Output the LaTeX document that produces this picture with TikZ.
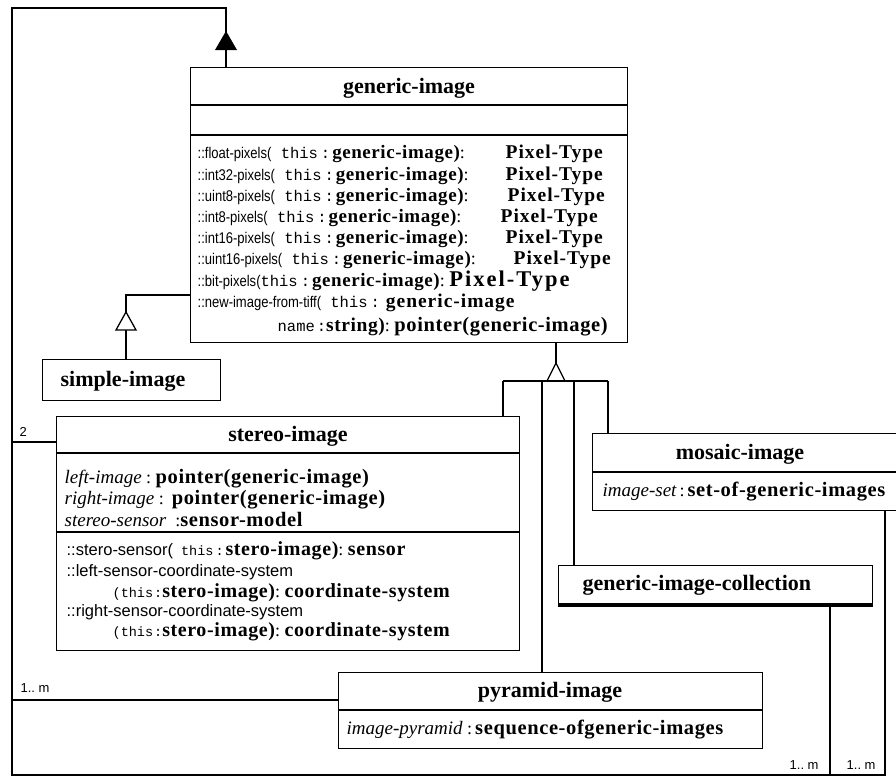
\documentclass[tikz,border=0pt]{standalone}
\usepackage{fontspec}
\setmainfont{Liberation Serif}
\setsansfont{Liberation Sans}
\setmonofont{Liberation Mono}
\newfontfamily\spacedserif{Liberation Serif}[LetterSpace=3]
\newfontfamily\widerserif{Liberation Serif}[LetterSpace=5]
\newfontfamily\widestserif{Liberation Serif}[LetterSpace=9]
\newfontfamily\condsans{Liberation Sans}[FakeStretch=0.84]
% type faces used inside the class boxes
\newcommand\clsfont{\normalfont\fontsize{22}{24}\selectfont\bfseries}
\newcommand\opsans{\normalfont\fontsize{15.5}{16}\selectfont\condsans}
\newcommand\opmono{\normalfont\fontsize{15.5}{16}\selectfont\ttfamily}
\newcommand\opbold{\normalfont\fontsize{19.5}{20}\selectfont\spacedserif\bfseries}
\newcommand\pxname{\normalfont\fontsize{19}{20}\selectfont\spacedserif\bfseries}
\newcommand\opplain{\normalfont\fontsize{18}{20}\selectfont\rmfamily}
\newcommand\pxtype{\normalfont\fontsize{19.5}{20}\selectfont\widerserif\bfseries}
\newcommand\pxtypebig{\normalfont\fontsize{22.5}{24}\selectfont\widestserif\bfseries}
\newcommand\stsans{\normalfont\fontsize{16.5}{18}\selectfont\sffamily}
\newcommand\stmono{\normalfont\fontsize{13.5}{14}\selectfont\ttfamily}
\newcommand\stbold{\normalfont\fontsize{20}{22}\selectfont\spacedserif\bfseries}
\newcommand\atname{\normalfont\fontsize{19}{20}\selectfont\rmfamily\itshape}
\newcommand\attype{\normalfont\fontsize{20.5}{22}\selectfont\spacedserif\bfseries}
\newcommand\multlabel{\normalfont\fontsize{13}{14}\selectfont\sffamily}
% receiver part of a generic-image operation
\newcommand\thisarg{\opmono this\hspace{3pt}:\hspace{2pt}}
% one pixel-access operation of generic-image; #2 = offset of the result type
\newcommand\pixop[2]{\makebox[#2][l]{\opsans ::#1-pixels(\opmono\ \thisarg\pxname generic-image)\opplain:}\pxtype Pixel-Type}
\begin{document}
\begin{tikzpicture}[x=1pt,y=-1pt,line width=1.3pt,
  cls/.style={draw,rectangle,inner sep=0pt,anchor=north west,fill=white},
  txt/.style={inner sep=0pt,anchor=base west},
  ttl/.style={inner sep=0pt,anchor=base,font=\clsfont},
  mlab/.style={inner sep=0pt,anchor=base west,font=\multlabel},
  hollow/.style={draw,fill=white,line join=miter}]
\useasboundingbox (0,0) rectangle (896,777);
\fill[white] (0,0) rectangle (896,777);
\clip (0,0) rectangle (896,777);

% column and row helpers for the connectors
\coordinate (cA) at (12,8);
\coordinate (cTop) at (226,8);
\coordinate (cBL) at (12,775);
\coordinate (cSimple) at (126,295);
\coordinate (cFork) at (556,381);
\coordinate (xSt) at (503,0);
\coordinate (xPy) at (542,0);
\coordinate (xGc) at (574,0);
\coordinate (xMo) at (608,0);
\coordinate (xGi) at (226,0);
\coordinate (xGiB) at (556,0);
\coordinate (xSi) at (126,0);
\coordinate (xGcB) at (830,0);
\coordinate (xMoB) at (885,0);
\coordinate (yTwo) at (0,442);
\coordinate (yPy) at (0,700);

% ---------- generic-image ----------
\node[cls,minimum width=437pt,minimum height=275pt] (gi) at (190,67) {};
\draw (gi.west |- 0,105) -- (gi.east |- 0,105);
\draw (gi.west |- 0,135) -- (gi.east |- 0,135);
\node[ttl] (gi-t) at (409,93) {generic-image};
\node[txt] (gi-o1) at (197,158) {\pixop{float}{308pt}};
\node[txt] (gi-o2) at (197,180) {\pixop{int32}{308pt}};
\node[txt] (gi-o3) at (197,201) {\pixop{uint8}{310pt}};
\node[txt] (gi-o4) at (197,222) {\pixop{int8}{303pt}};
\node[txt] (gi-o5) at (197,243) {\pixop{int16}{308pt}};
\node[txt] (gi-o6) at (197,264) {\pixop{uint16}{316pt}};
\node[txt] (gi-o7) at (197,286) {\opsans ::bit-pixels(\thisarg\pxname generic-image)\opplain:\ \pxtypebig Pixel-Type};
\node[txt] (gi-o8) at (197,307) {\opsans ::new-image-from-tiff(\opmono\ \thisarg\hspace{4pt}\pxtype generic-image};
\node[txt] (gi-o9) at (277,331) {\opmono name\hspace{2pt}:\opbold string)\opplain:\ \attype pointer(generic-image)};

% ---------- simple-image ----------
\node[cls,minimum width=178pt,minimum height=41pt] (si) at (42,359) {};
\node[ttl,anchor=base west] (si-t) at (60,386) {simple-image};

% ---------- stereo-image ----------
\node[cls,minimum width=463pt,minimum height=234pt] (st) at (56,416) {};
\draw (st.west |- 0,453) -- (st.east |- 0,453);
\draw (st.west |- 0,532) -- (st.east |- 0,532);
\node[ttl] (st-t) at (288,441) {stereo-image};
\node[txt] (st-a1) at (64,483) {\atname left-image\opplain\ :\ \attype pointer(generic-image)};
\node[txt] (st-a2) at (64,504) {\atname right-image\opplain\ :\hspace{8pt}\attype pointer(generic-image)};
\node[txt] (st-a3) at (64,526) {\atname stereo-sensor\opplain\ \ :\attype sensor-model};
\node[txt] (st-o1) at (66,555) {\stsans ::stero-sensor(\stmono\ this\hspace{2pt}:\hspace{2pt}\stbold stero-image)\opplain:\ \stbold sensor};
\node[txt] (st-o2) at (66,576) {\stsans ::left-sensor-coordinate-system};
\node[txt] (st-o3) at (112,597) {\stmono (this\hspace{1pt}:\stbold stero-image)\opplain:\ \stbold coordinate-system};
\node[txt] (st-o4) at (66,616) {\stsans ::right-sensor-coordinate-system};
\node[txt] (st-o5) at (112,636) {\stmono (this\hspace{1pt}:\stbold stero-image)\opplain:\ \stbold coordinate-system};

% ---------- mosaic-image ----------
\node[cls,minimum width=320pt,minimum height=77pt] (mo) at (592,433) {};
\draw (mo.west |- 0,472) -- (mo.east |- 0,472);
\node[ttl] (mo-t) at (740,459) {mosaic-image};
\node[txt] (mo-a1) at (602,496) {\atname image-set\opplain\,:\,\attype set-of-generic-images};

% ---------- generic-image-collection (with shadow) ----------
\node[cls,minimum width=314pt,minimum height=38pt] (gc) at (558,565) {};
\fill (gc.south west) rectangle ([yshift=-3pt]gc.south east);
\node[ttl,anchor=base west] (gc-t) at (582,590) {generic-image-collection};

% ---------- pyramid-image ----------
\node[cls,minimum width=424pt,minimum height=76pt] (py) at (338,672) {};
\draw (py.west |- 0,710) -- (py.east |- 0,710);
\node[ttl] (py-t) at (550,697) {pyramid-image};
\node[txt] (py-a1) at (346,734) {\atname image-pyramid\opplain\ :\,\attype sequence-ofgeneric-images};

% ---------- association frame with filled arrow ----------
\draw (gi.north -| xGi) -- (cTop) -- (cA) -- (cBL) -- (cBL -| xMoB) -- (mo.south -| xMoB);
\fill (226,31) -- (237,50) -- (215,50) -- cycle;
\draw (cA |- yTwo) -- (st.west |- yTwo);
\draw (cA |- yPy) -- (py.west |- yPy);
\draw (gc.south -| xGcB) -- (cBL -| xGcB);
\node[mlab] (m-two) at (19,436) {2};
\node[mlab] (m-py) at (20,692) {1..\ m};
\node[mlab] (m-gc) at (789,769) {1..\ m};
\node[mlab] (m-mo) at (846,769) {1..\ m};

% ---------- generalisation: simple-image ----------
\draw (si.north -| xSi) -- (126,330);
\draw[hollow] (126,312) -- (136,330) -- (116,330) -- cycle;
\draw (126,312) -- (cSimple) -- (gi.west |- cSimple);

% ---------- generalisation: the four subclasses ----------
\draw (gi.south -| xGiB) -- (556,363);
\draw[hollow] (556,363) -- (565,381) -- (547,381) -- cycle;
\draw (cFork -| xSt) -- (cFork -| xMo);
\draw (cFork -| xSt) -- (st.north -| xSt);
\draw (cFork -| xPy) -- (py.north -| xPy);
\draw (cFork -| xGc) -- (gc.north -| xGc);
\draw (cFork -| xMo) -- (mo.north -| xMo);
\end{tikzpicture}
\end{document}
